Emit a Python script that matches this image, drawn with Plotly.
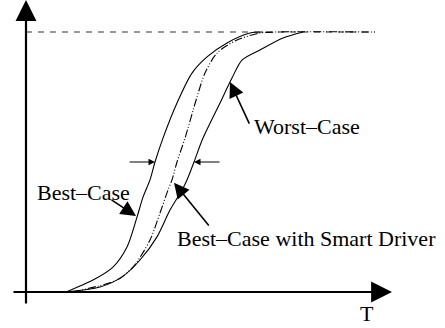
import plotly.graph_objects as go

# ─── DADOS (T em unidades arbitrárias, V normalizada 0..1) ───
t_best = [4.0, 6.7, 8.7, 10.1, 11.1, 11.7, 12.4, 12.9, 13.7, 15.1, 16.6, 18.1, 20.1, 22.4, 23.7]
v_best = [0.0, 0.046, 0.096, 0.173, 0.288, 0.365, 0.431, 0.5, 0.592, 0.727, 0.842, 0.904, 0.958, 0.996, 1.0]

t_worst = [4.0, 7.4, 9.6, 11.4, 13.1, 14.4, 15.6, 16.1, 16.8, 17.7, 19.4, 20.6, 21.6, 23.4, 25.7, 27.7]
v_worst = [0.0, 0.019, 0.058, 0.123, 0.212, 0.315, 0.392, 0.431, 0.5, 0.592, 0.727, 0.823, 0.892, 0.931, 0.977, 1.0]

t_smart = [4.6, 9.1, 10.7, 12.4, 13.4, 14.2, 14.6, 15.1, 15.9, 17.1, 17.9, 19.1, 21.1, 23.4, 25.1, 34.9]
v_smart = [0.0, 0.046, 0.096, 0.2, 0.304, 0.392, 0.431, 0.5, 0.592, 0.75, 0.842, 0.919, 0.969, 0.996, 1.0, 1.0]

t_vdd = [0.0, 34.9]
v_vdd = [1.0, 1.0]

rotulos = ["Best–Case", "Worst–Case", "Best–Case with Smart Driver"]

FONTE = "Liberation Serif, Times New Roman, serif"
PRETO = "#000000"

fig = go.Figure()

fig.add_trace(go.Scatter(
    x=t_vdd, y=v_vdd, mode="lines",
    line=dict(color="#777777", width=1.5, dash="6px,6px"),
))
for t, v, estilo in [(t_best, v_best, "solid"), (t_worst, v_worst, "solid"),
                     (t_smart, v_smart, "8px,2px,1px,2px,1px,2px")]:
    fig.add_trace(go.Scatter(
        x=t, y=v, mode="lines",
        line=dict(color=PRETO, width=1.1, dash=estilo, shape="spline", smoothing=0.8),
    ))


def seta(x, y, ax, ay, largura=1.6, tamanho=1.3, cabeca=2):
    fig.add_annotation(
        x=x, y=y, ax=ax, ay=ay, xref="x", yref="y", axref="x", ayref="y",
        text="", showarrow=True, arrowhead=cabeca, arrowsize=tamanho,
        arrowwidth=largura, arrowcolor=PRETO,
    )


# eixos
seta(0, 1.123, 0, -0.05, largura=2.2, tamanho=1.9)
seta(36.6, 0, -1.4, 0, largura=2.2, tamanho=1.9)

# setas dos rótulos
seta(11.0, 0.292, 8.4, 0.358, largura=1.6, tamanho=1.9)
seta(14.8, 0.42, 18.4, 0.25, largura=1.6, tamanho=1.9)
seta(20.4, 0.808, 22.4, 0.642, largura=1.6, tamanho=1.9)

# marcadores de largura
seta(12.9, 0.5, 10.2, 0.5, largura=1, tamanho=1.3)
seta(16.8, 0.5, 19.5, 0.5, largura=1, tamanho=1.3)

texto = dict(xref="x", yref="y", showarrow=False,
             font=dict(family=FONTE, size=22, color=PRETO))
fig.add_annotation(x=0.9, y=0.381, text=rotulos[0], xanchor="left", **texto)
fig.add_annotation(x=22.6, y=0.635, text=rotulos[1], xanchor="left", **texto)
fig.add_annotation(x=14.9, y=0.204, text=rotulos[2], xanchor="left", **texto)
fig.add_annotation(x=34.1, y=-0.081, text="T", xanchor="center", **texto)

fig.update_layout(
    width=445, height=328,
    margin=dict(l=0, r=0, t=0, b=0),
    paper_bgcolor="#FFFFFF", plot_bgcolor="#FFFFFF",
    showlegend=False,
    xaxis=dict(range=[-2.6, 41.9], visible=False, fixedrange=True),
    yaxis=dict(range=[-0.1385, 1.1231], visible=False, fixedrange=True),
)

# tira a margem padrão do <body> para a figura ocupar a janela inteira
fig.write_html("out.html", config={"displayModeBar": False},
               post_script="document.body.style.margin='0';")
